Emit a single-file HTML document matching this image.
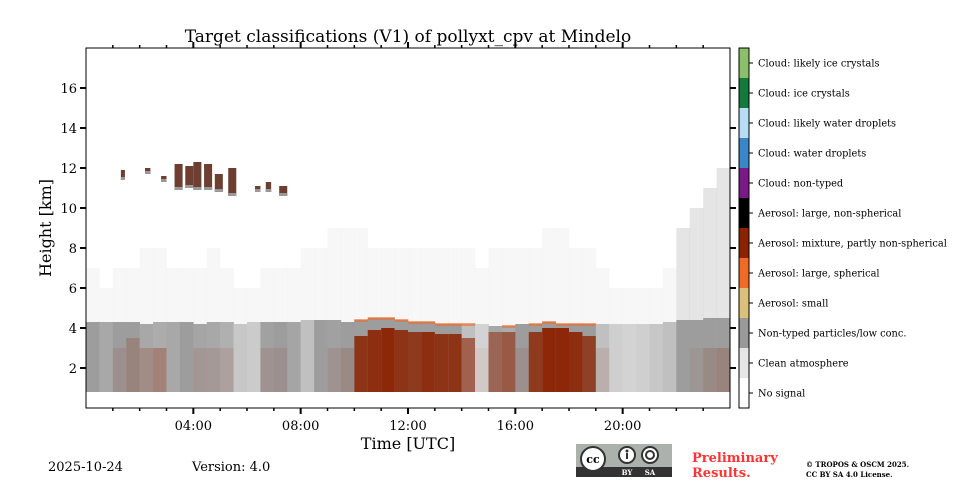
<!DOCTYPE html>
<html><head><meta charset="utf-8"><style>
body{margin:0;background:#fff;width:960px;height:480px;overflow:hidden}
text{font-family:"DejaVu Serif","Liberation Serif",serif}
</style></head><body>
<svg id="chart" width="960" height="480" xmlns="http://www.w3.org/2000/svg">
<text x="408" y="42" font-size="17" text-anchor="middle">Target classifications (V1) of pollyxt_cpv at Mindelo</text>
<g id="plot"></g>
<g id="axes"></g>
<g id="cbar"></g>
<text x="408" y="449" font-size="16" text-anchor="middle">Time [UTC]</text>
<text transform="translate(51,228) rotate(-90)" font-size="16" text-anchor="middle">Height [km]</text>
<text x="48" y="471" font-size="13">2025-10-24</text>
<text x="192" y="471" font-size="13">Version: 4.0</text>
<g>
<rect x="576" y="444" width="96" height="33" fill="#aab2ab"/>
<rect x="576" y="467" width="96" height="10" fill="#333"/>
<circle cx="593" cy="459" r="12" fill="#fff" stroke="#333" stroke-width="2"/>
<text x="593" y="463" font-size="11" font-weight="bold" text-anchor="middle" font-family="Liberation Sans">cc</text>
<circle cx="627" cy="455" r="8" fill="#fff" stroke="#333" stroke-width="2"/>
<circle cx="627" cy="451" r="1.5" fill="#333"/><rect x="626" y="453" width="2" height="6" fill="#333"/>
<circle cx="650" cy="455" r="8" fill="#fff" stroke="#333" stroke-width="2"/>
<circle cx="650" cy="455" r="4" fill="none" stroke="#333" stroke-width="2"/>
<text x="627" y="475" font-size="7" fill="#fff" text-anchor="middle" font-family="Liberation Sans" font-weight="bold">BY</text>
<text x="650" y="475" font-size="7" fill="#fff" text-anchor="middle" font-family="Liberation Sans" font-weight="bold">SA</text>
</g>
<text x="692" y="462" font-size="13" font-weight="bold" fill="#ff3333">Preliminary</text>
<text x="692" y="477" font-size="13" font-weight="bold" fill="#ff3333">Results.</text>
<text x="806" y="467" font-size="7" font-weight="bold">© TROPOS &amp; OSCM 2025.</text>
<text x="806" y="477" font-size="7" font-weight="bold">CC BY SA 4.0 License.</text>
</svg>
<script>
// half-hour bins, 0..24h (48 values)
const aerosolTop=[4.3,4.3,4.3,4.3,4.2,4.3,4.3,4.3,4.2,4.3,4.3,4.2,4.3,4.3,4.3,4.3,4.4,4.4,4.4,4.3,4.4,4.5,4.5,4.4,4.3,4.3,4.2,4.2,4.2,4.2,4.1,4.1,4.2,4.2,4.3,4.2,4.2,4.2,4.2,4.2,4.2,4.2,4.2,4.3,4.4,4.4,4.5,4.5];
const grayShade=[0.95,0.8,0.95,0.95,0.8,0.75,0.8,0.95,0.85,0.8,0.7,0.4,0.35,0.9,0.95,0.85,0.5,0.95,0.9,0.95,0.95,0.95,0.95,0.95,0.95,0.95,0.95,0.95,0.5,0.25,0.8,0.75,0.95,0.95,0.95,0.95,0.95,0.95,0.5,0.3,0.25,0.3,0.4,0.5,0.95,0.95,0.95,0.95];
const redFrac=[0,0,0.1,0.2,0.2,0.3,0,0,0.1,0.1,0.1,0,0,0.1,0.1,0,0,0,0.1,0.15,0.85,0.9,0.95,0.85,0.8,0.9,0.85,0.85,0.6,0.05,0.5,0.6,0.1,0.8,0.95,0.95,0.9,0.75,0.1,0,0,0,0,0,0,0.05,0.15,0.2];
const redTop=[0,0,3,3.5,3,3,0,0,3,3,3,0,0,3,3,0,0,0,3,3,3.6,3.9,4.0,3.9,3.8,3.8,3.7,3.7,3.5,3,3.8,3.8,3,3.8,4.0,4.0,3.8,3.6,3,0,0,0,0,0,0,3,3,3];
const noiseTop=[7,6,7,7,8,8,7,7,7,8,7,6,6,7,7,7,8,8,9,9,9,8,8,8,8,8,8,8,8,7,8,8,8,8,9,9,8,8,7,6,6,6,6,7,9,10,11,12];
// cloud patches: start hour, end hour, base km, top km
const cloudStart=[1.3,2.2,2.8,3.3,3.7,4.0,4.4,4.8,5.3,6.3,6.7,7.2];
const cloudEnd=[1.45,2.4,3.0,3.6,4.0,4.3,4.7,5.1,5.6,6.5,6.9,7.5];
const cloudBase=[11.4,11.7,11.3,10.9,11.0,10.9,10.9,10.8,10.6,10.8,10.8,10.6];
const cloudTop=[11.9,12.0,11.6,12.2,12.1,12.3,12.2,11.7,12.0,11.1,11.3,11.1];
const classLabels=["Cloud: likely ice crystals","Cloud: ice crystals","Cloud: likely water droplets","Cloud: water droplets","Cloud: non-typed","Aerosol: large, non-spherical","Aerosol: mixture, partly non-spherical","Aerosol: large, spherical","Aerosol: small","Non-typed particles/low conc.","Clean atmosphere","No signal"];
const classColors=["#8cbf6a","#127a3a","#b6dcf6","#3a86c8","#7b1a86","#000000","#8b2200","#ef6a24","#dcc17a","#999999","#e6e6e6","#ffffff"];
const xTickLabels=["04:00","08:00","12:00","16:00","20:00"];
const xTickHours=[4,8,12,16,20];
const yTicks=[2,4,6,8,10,12,14,16];

const NS="http://www.w3.org/2000/svg";
const X0=86,X1=730,Y0=408,Y1=48;
const xs=h=>X0+(X1-X0)*h/24, ys=k=>Y0-(Y0-Y1)*k/18;
function mk(tag,at,parent){const e=document.createElementNS(NS,tag);for(const k in at)e.setAttribute(k,at[k]);parent.appendChild(e);return e;}
const plot=document.getElementById('plot'),axes=document.getElementById('axes'),cb=document.getElementById('cbar');
const base=0.8,bw=0.5;
aerosolTop.forEach((t,i)=>{
  const h=i*bw;
  const n=mk('rect',{x:xs(h),y:ys(noiseTop[i]),width:xs(h+bw)-xs(h)+0.3,height:ys(t)-ys(noiseTop[i]),fill:'#aaaaaa',opacity:(i>=44?0.3:0.09)},plot);
  
  
  const g=grayShade[i];
  const c=Math.round(230-(230-153)*g);
  const r=mk('rect',{x:xs(h),y:ys(t),width:xs(h+bw)-xs(h)+0.3,height:ys(base)-ys(t),fill:`rgb(${c},${c},${c})`},plot);
  
  
  if(redFrac[i]>0){
    const rr=mk('rect',{x:xs(h),y:ys(redTop[i]),width:xs(h+bw)-xs(h)+0.3,height:ys(base)-ys(redTop[i]),fill:'#8b2200',opacity:redFrac[i]},plot);
    
    
    if(redFrac[i]>0.5){
      const o=mk('rect',{x:xs(h),y:ys(t)-1,width:xs(h+bw)-xs(h)+0.3,height:3,fill:'#ef6a24',opacity:0.6},plot);
      
      
    }
  }
});
cloudStart.forEach((s,i)=>{
  const c=mk('rect',{x:xs(s),y:ys(cloudTop[i]),width:xs(cloudEnd[i])-xs(s),height:ys(cloudBase[i])-ys(cloudTop[i]),fill:'#6e3f30'},plot);
  
  
  const c2=mk('rect',{x:xs(s),y:ys(cloudBase[i])-3,width:xs(cloudEnd[i])-xs(s),height:3,fill:'#999'},plot);
  
  
});
const frame=mk('rect',{x:X0,y:Y1,width:X1-X0,height:Y0-Y1,fill:'none',stroke:'#000','stroke-width':1},axes);


for(let h=1;h<24;h++){
  const maj=h%4===0, L=maj?6:3;
  mk('line',{x1:xs(h),x2:xs(h),y1:Y0,y2:Y0+L,stroke:'#000','stroke-width':maj?2:1.5},axes);
  mk('line',{x1:xs(h),x2:xs(h),y1:Y1,y2:Y1-L,stroke:'#000','stroke-width':maj?2:1.5},axes);
}
xTickHours.forEach((h,i)=>{
  const t=mk('text',{x:xs(h),y:Y0+22,'font-size':13,'text-anchor':'middle'},axes);t.textContent=xTickLabels[i];
  
  
});
yTicks.forEach(k=>{
  mk('line',{x1:X0-6,x2:X0,y1:ys(k),y2:ys(k),stroke:'#000','stroke-width':2},axes);
  mk('line',{x1:X1,x2:X1+6,y1:ys(k),y2:ys(k),stroke:'#000','stroke-width':2},axes);
  const t=mk('text',{x:X0-9,y:ys(k)+5,'font-size':13,'text-anchor':'end'},axes);t.textContent=k;
  
  
});
classLabels.forEach((lab,i)=>{
  const y=48+i*30;
  const r=mk('rect',{x:739,y:y,width:10,height:30,fill:classColors[i]},cb);
  
  
  mk('line',{x1:749,x2:753,y1:y+15,y2:y+15,stroke:'#000'},cb);
  const t=mk('text',{x:758,y:y+18.5,'font-size':9.8},cb);t.textContent=lab;
  
  
});
mk('rect',{x:739,y:48,width:10,height:360,fill:'none',stroke:'#000'},cb);
</script>
</body></html>
